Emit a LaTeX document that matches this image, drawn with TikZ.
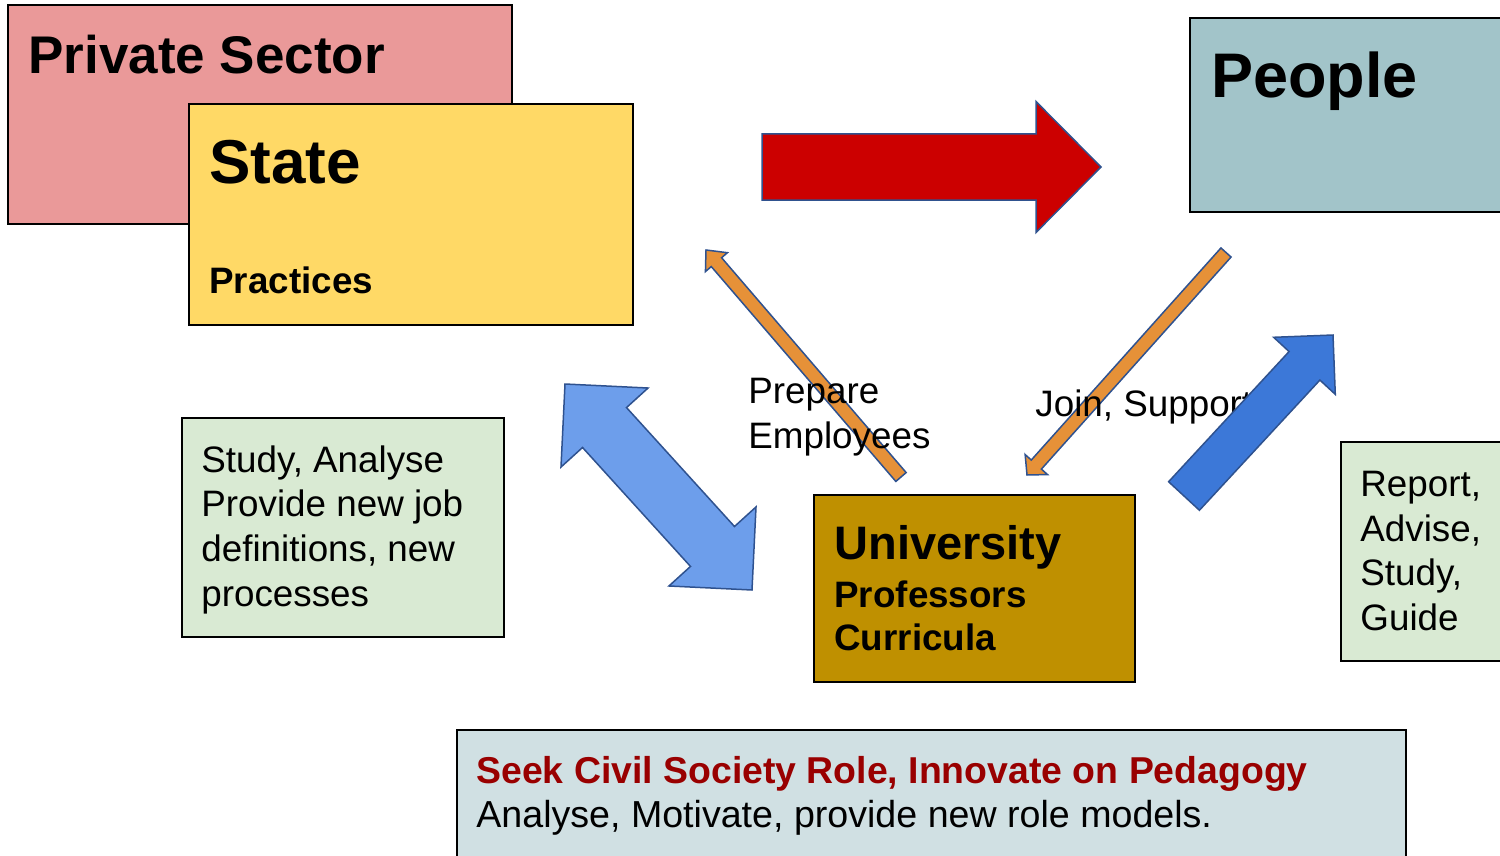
\documentclass[tikz,border=0pt]{standalone}
\usepackage{fontspec}
\setmainfont{Liberation Sans}
\usepackage{tikz}
\usetikzlibrary{calc}

\definecolor{pinkbox}{HTML}{EA9999}
\definecolor{yellowbox}{HTML}{FFD966}
\definecolor{tealbox}{HTML}{A2C4C9}
\definecolor{goldbox}{HTML}{BF9000}
\definecolor{greenbox}{HTML}{D9EAD3}
\definecolor{greybox}{HTML}{D0E0E3}
\definecolor{redarrow}{HTML}{CC0000}
\definecolor{orangearrow}{HTML}{E69138}
\definecolor{lightblue}{HTML}{6D9EEB}
\definecolor{darkblue}{HTML}{3C78D8}
\definecolor{arrowline}{HTML}{2F528F}
\definecolor{darkred}{HTML}{990000}

\begin{document}
\begin{tikzpicture}[x=0.5pt,y=-0.5pt]
  \tikzstyle{box}=[draw=black, line width=1pt, rectangle, anchor=north west, inner sep=0pt, outer sep=0pt]
  \tikzstyle{heading}=[anchor=base west, inner sep=0pt, font=\bfseries]
  \tikzstyle{bodytext}=[anchor=base west, inner sep=0pt, align=left, font=\fontsize{18.4}{22.3}\selectfont]
  \tikzstyle{blockarrow}=[draw=arrowline, line width=0.75pt, line join=miter]

  \useasboundingbox (0,0) rectangle (1500,856);

  % boxes
  \node[box, fill=pinkbox, minimum width=252pt, minimum height=109.5pt] (private) at (8,5) {};
  \node[box, fill=yellowbox, minimum width=222pt, minimum height=110.5pt] (state) at (189,104) {};
  \node[box, fill=tealbox, minimum width=160pt, minimum height=97pt] (people) at (1190,18) {};
  \node[box, fill=greenbox, minimum width=161pt, minimum height=109.5pt] (study) at (182,418) {};
  \node[box, fill=greenbox, minimum width=100pt, minimum height=109.5pt] (report) at (1341,442) {};
  \node[box, fill=goldbox, minimum width=160.5pt, minimum height=93.5pt] (university) at (814,495) {};
  \node[box, fill=greybox, minimum width=474.5pt, minimum height=80pt] (society) at (457,730) {};

  % box texts (base of a multi-line node is its last line)
  \node[heading, font=\fontsize{26.5}{30}\selectfont\bfseries] (privatetitle) at (28,74) {Private Sector};
  \node[heading, font=\fontsize{31}{36}\selectfont\bfseries] (statetitle) at (209,184) {State};
  \node[heading, font=\fontsize{18.4}{22}\selectfont\bfseries] (practices) at (209,293) {Practices};
  \node[heading, font=\fontsize{31.5}{36}\selectfont\bfseries] (peopletitle) at (1211,98) {People};
  \node[heading, font=\fontsize{23.5}{28}\selectfont\bfseries] (unititle) at (834,559) {University};
  \node[heading, font=\fontsize{18.4}{22}\selectfont\bfseries] (professors) at (834,607) {Professors};
  \node[heading, font=\fontsize{18.4}{22}\selectfont\bfseries] (curricula) at (834,650) {Curricula};
  \node[bodytext] (studytext) at (201,606) {Study, Analyse\\Provide new job\\definitions, new\\processes};
  \node[bodytext, font=\fontsize{18.4}{22.2}\selectfont] (reporttext) at (1360,630) {Report,\\Advise,\\Study,\\Guide};
  \node[heading, font=\fontsize{18.7}{22}\selectfont\bfseries, text=darkred] (seek) at (476,783) {Seek Civil Society Role, Innovate on Pedagogy};
  \node[bodytext, font=\fontsize{18.8}{22}\selectfont] (analyse) at (476,827) {Analyse, Motivate, provide new role models.};

  % arrow ends
  \coordinate (redtail) at (762,167);
  \coordinate (redtip) at (1101,167);
  \coordinate (preptail) at (901,477);
  \coordinate (preptip) at (706,250);
  \coordinate (jointail) at (1226,252.5);
  \coordinate (jointip) at (1027,475);
  \coordinate (reporttail) at (1184,496);
  \coordinate (reporttip) at (1333,335);
  \coordinate (studyend) at (565,384);
  \coordinate (uniend) at (752,590);

  \foreach \from/\to/\sw/\hw/\hl/\col in {redtail/redtip/16.5pt/32.75pt/32.5pt/redarrow,
      preptail/preptip/3.4pt/7.25pt/8pt/orangearrow, jointail/jointip/3.4pt/7.5pt/7pt/orangearrow}
  {
    \coordinate (base) at ($(\to)!\hl!(\from)$);
    \path[blockarrow, fill=\col] ($(\from)!\sw!90:(\to)$) -- ($(base)!\sw!90:(\to)$) -- ($(base)!\hw!90:(\to)$)
      -- (\to) -- ($(base)!\hw!-90:(\to)$) -- ($(base)!\sw!-90:(\to)$) -- ($(\from)!\sw!-90:(\to)$) -- cycle;
  }

  % double arrow
  \coordinate (h1) at ($(studyend)!29.4pt!(uniend)$);
  \coordinate (h2) at ($(uniend)!29.4pt!(studyend)$);
  \path[blockarrow, fill=lightblue] (studyend) -- ($(h1)!29.4pt!90:(uniend)$) -- ($(h1)!14.85pt!90:(uniend)$)
    -- ($(h2)!14.85pt!90:(uniend)$) -- ($(h2)!29.4pt!90:(uniend)$) -- (uniend)
    -- ($(h2)!29.4pt!-90:(uniend)$) -- ($(h2)!14.85pt!-90:(uniend)$) -- ($(h1)!14.85pt!-90:(uniend)$)
    -- ($(h1)!29.4pt!-90:(uniend)$) -- cycle;

  % labels on the arrows
  \node[bodytext] (prepare) at (748,448) {Prepare\\Employees};
  \node[bodytext] (join) at (1035,416) {Join, Support};

  \coordinate (h3) at ($(reporttip)!21pt!(reporttail)$);
  \path[blockarrow, fill=darkblue] ($(reporttail)!10.5pt!90:(reporttip)$) -- ($(h3)!10.5pt!90:(reporttip)$)
    -- ($(h3)!21pt!90:(reporttip)$) -- (reporttip) -- ($(h3)!21pt!-90:(reporttip)$)
    -- ($(h3)!10.5pt!-90:(reporttip)$) -- ($(reporttail)!10.5pt!-90:(reporttip)$) -- cycle;
\end{tikzpicture}
\end{document}
